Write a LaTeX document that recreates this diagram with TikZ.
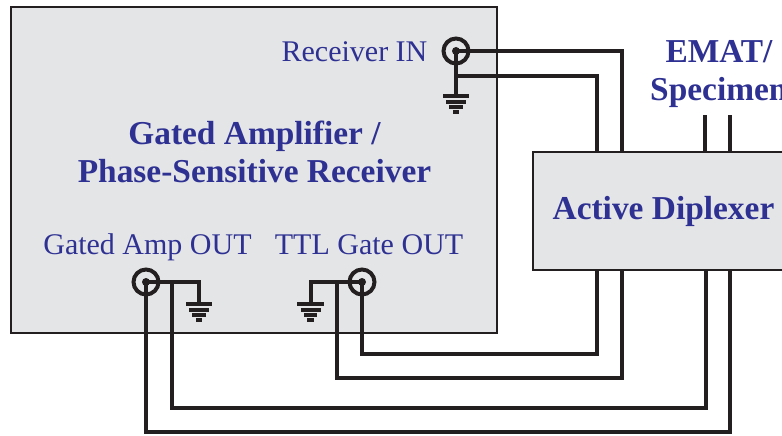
\documentclass[tikz,border=0pt]{standalone}
\usepackage{fontspec}
\setmainfont{Liberation Serif}
\definecolor{boxfill}{HTML}{E4E5E7}
\definecolor{labelblue}{HTML}{2E3192}
\definecolor{wire}{HTML}{231F20}
\tikzset{
  panel/.style={draw=wire,line width=1.3pt,fill=boxfill,inner sep=0pt,outer sep=0pt},
  plain/.style={text=labelblue,font=\fontsize{30}{36}\selectfont,inner sep=0pt},
  heavy/.style={text=labelblue,font=\fontsize{33.4}{38}\selectfont\bfseries,inner sep=0pt,align=center},
  wirep/.style={draw=wire,line width=4pt,line join=miter},
  jack/.style={circle,draw=wire,line width=4pt,minimum size=25pt,inner sep=0pt,outer sep=0pt},
  jackdot/.style={circle,fill=wire,minimum size=8pt,inner sep=0pt,outer sep=0pt},
  gnd/.pic={
    \fill[wire] (-13.3,-2.2) rectangle (13.3,2.2);
    \fill[wire] (-10,3.5) rectangle (10,7.9);
    \fill[wire] (-6.8,8.7) rectangle (6.8,12.9);
    \fill[wire] (-3.4,13.7) rectangle (3.4,18);
  }
}
\begin{document}
\begin{tikzpicture}[x=1pt,y=-1pt]
\useasboundingbox (0,0) rectangle (782,436);
\clip (0,0) rectangle (782,436);
% boxes
\node[panel,anchor=north west,minimum width=486pt,minimum height=326pt] (rcv) at (11,7) {};
\node[panel,anchor=north west,minimum width=270pt,minimum height=118pt] (dip) at (533,152) {};
% anchors
\coordinate (dipT1) at (597,152);
\coordinate (dipT2) at (622,152);
\coordinate (dipT3) at (705,152);
\coordinate (dipT4) at (730,152);
\coordinate (dipB1) at (597,270);
\coordinate (dipB2) at (622,270);
\coordinate (dipB3) at (706,270);
\coordinate (dipB4) at (730,270);
\coordinate (emA) at (705,115);
\coordinate (emB) at (730,115);
% jacks
\node[jack] (rin) at (456,51) {};
\node[jack] (amp) at (146,282) {};
\node[jack] (ttl) at (362,282) {};
\node[jackdot] at (rin.center) {};
\node[jackdot] at (amp.center) {};
\node[jackdot] at (ttl.center) {};
% grounds
\coordinate (g1) at (456,96);
\coordinate (g2) at (199,304);
\coordinate (g3) at (310.5,304);
\pic at (g1) {gnd};
\pic at (g2) {gnd};
\pic at (g3) {gnd};
% junctions
\coordinate (j1) at (456,76);
\coordinate (j2) at (172,282);
\coordinate (j3) at (337,282);
% wires
\draw[wirep] (rin.center) -| (dipT2);
\draw[wirep] (rin.center) -- (g1);
\draw[wirep] (j1) -| (dipT1);
\draw[wirep] (amp.center) -| (g2);
\draw[wirep] (ttl.center) -| (g3);
\draw[wirep] (amp.center) |- (730,432) -- (dipB4);
\draw[wirep] (j2) |- (706,408) -- (dipB3);
\draw[wirep] (j3) |- (622,378) -- (dipB2);
\draw[wirep] (ttl.center) |- (597,354) -- (dipB1);
\draw[wirep,line width=3.4pt] (emA) -- (dipT3);
\draw[wirep,line width=3.4pt] (emB) -- (dipT4);
% labels
\node[plain,anchor=base] (lrin) at (354.5,61.7) {Receiver IN};
\node[plain,anchor=base] (lamp) at (147.5,254.7) {Gated Amp OUT};
\node[plain,anchor=base] (lttl) at (369,254.7) {TTL Gate OUT};
\node[heavy] (ltitle) at (254.5,151.5) {Gated Amplifier /\\Phase-Sensitive Receiver};
\node[heavy,anchor=base] (ldip) at (663.5,219.7) {Active Diplexer};
\node[heavy,anchor=base] (lem1) at (719,62.7) {EMAT/};
\node[heavy,anchor=base west] (lem2) at (650,100.7) {Specimen};
\end{tikzpicture}
\end{document}
